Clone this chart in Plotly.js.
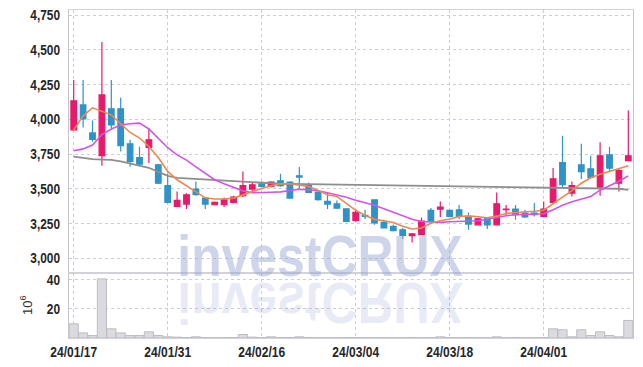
<!DOCTYPE html>
<html><head><meta charset="utf-8">
<script src="https://cdn.plot.ly/plotly-3.0.1.min.js"></script>
<style>html,body{margin:0;padding:0;background:#fff;} #chart{width:643px;height:367px;}</style>
</head><body><div id="chart"></div>
<script>
const dates = ['24/01/17','24/01/18','24/01/19','24/01/22','24/01/23','24/01/24','24/01/25','24/01/26','24/01/29','24/01/30',
 '24/01/31','24/02/01','24/02/02','24/02/05','24/02/06','24/02/07','24/02/08','24/02/13','24/02/14','24/02/15',
 '24/02/16','24/02/19','24/02/20','24/02/21','24/02/22','24/02/23','24/02/26','24/02/27','24/02/28','24/02/29',
 '24/03/04','24/03/05','24/03/06','24/03/07','24/03/08','24/03/11','24/03/12','24/03/13','24/03/14','24/03/15',
 '24/03/18','24/03/19','24/03/20','24/03/21','24/03/22','24/03/25','24/03/26','24/03/27','24/03/28','24/03/29',
 '24/04/01','24/04/02','24/04/03','24/04/04','24/04/05','24/04/08','24/04/09','24/04/11','24/04/12','24/04/15'];
const openP  = [3924,4103,3902,3739,4075,4075,3823,3725,3797,3672, 3522,3373,3390,3498,3433,3385,3385,3402,3450,3498,
 3536,3517,3557,3548,3593,3529,3476,3409,3392,3356, 3272,3308,3421,3258,3229,3205,3162,3170,3344,3354,
 3344,3349,3297,3241,3289,3241,3349,3354,3325,3325, 3301,3402,3689,3469,3672,3644,3512,3744,3541,3703];
const highP  = [4283,4283,3992,4556,4283,4154,3852,3802,3936,3680, 3608,3481,3468,3552,3440,3409,3437,3450,3624,3545,
 3552,3555,3608,3555,3656,3545,3480,3469,3416,3360, 3349,3349,3425,3277,3241,3218,3182,3294,3361,3409,
 3350,3383,3330,3290,3295,3473,3383,3383,3349,3397, 3409,3649,3881,3552,3823,3737,3835,3800,3649,4063];
const lowP   = [3917,3940,3838,3665,3935,3768,3658,3670,3685,3535, 3395,3370,3354,3450,3354,3380,3369,3400,3440,3469,
 3510,3510,3515,3430,3498,3470,3414,3354,3355,3260, 3265,3282,3241,3215,3193,3139,3114,3165,3258,3297,
 3295,3282,3205,3235,3210,3238,3313,3277,3290,3301, 3295,3395,3505,3445,3570,3575,3450,3624,3481,3700];
const closeP = [4133,4003,3856,4175,3960,3811,3696,3677,3852,3540, 3402,3416,3457,3457,3390,3402,3421,3440,3522,3529,
 3517,3548,3522,3433,3584,3473,3421,3390,3361,3265, 3330,3301,3254,3218,3198,3165,3175,3268,3265,3368,
 3301,3301,3246,3284,3241,3392,3354,3313,3297,3313, 3354,3572,3529,3522,3624,3581,3737,3649,3631,3737];
const ma5  = [3924,4025,4082,4058,4032,3968,3905,3865,3804,3725, 3625,3565,3522,3478,3435,3426,3426,3433,3457,3481,
 3502,3521,3536,3536,3529,3517,3488,3457,3445,3397, 3345,3308,3280,3270,3258,3231,3211,3218,3252,3270,
 3282,3301,3305,3299,3292,3303,3322,3329,3331,3338, 3346,3391,3439,3486,3540,3579,3605,3626,3644,3665];
const ma20 = [3773,3787,3815,3890,3930,3958,3968,3972,3930,3866, 3795,3744,3706,3658,3611,3565,3536,3511,3485,3471,
 3471,3475,3478,3486,3496,3493,3486,3471,3457,3439, 3417,3399,3381,3356,3331,3306,3281,3265,3260,3258,
 3263,3266,3270,3270,3281,3295,3306,3313,3317,3318, 3320,3349,3381,3407,3428,3445,3490,3522,3554,3593];
const ma60 = [3732,3723,3713,3710,3708,3697,3683,3669,3651,3622, 3593,3579,3575,3572,3567,3563,3557,3552,3547,3543,
 3540,3537,3536,3535,3534,3533,3532,3531,3530,3529, 3528,3527,3526,3525,3524,3523,3522,3521,3520,3519,
 3518,3516,3515,3514,3513,3513,3512,3512,3511,3511, 3510,3509,3508,3508,3508,3507,3506,3505,3500,3492];
const volume = [9.7,3.5,1.7,40.4,6.3,3.5,1.7,1.7,4.2,1.7, 0.8,0.6,0.3,0.8,0.3,0.2,0.3,0.3,2.4,0.6,
 0.3,0.8,0.3,0.3,0.8,0.3,0.2,0.2,0.2,0.3, 0.3,0.2,0.3,0.2,0.2,0.2,0.3,0.2,0.3,0.8,
 0.3,0.2,0.3,0.2,0.2,0.8,0.2,0.3,0.2,0.2, 0.3,6.3,5.6,0.8,5.6,1.7,4.2,1.7,0.8,12];
const tickDates = ['24/01/17','24/01/31','24/02/16','24/03/04','24/03/18','24/04/01'];
const priceTicks = [3000,3250,3500,3750,4000,4250,4500,4750];
const volTicks = [20,40];
const watermark = 'investCRUX';

const UP = '#e8196b', DOWN = '#2e93c6';
const GRID = '#cacde0';
const traces = [
  {type:'bar', x:dates, y:volume, xaxis:'x', yaxis:'y2', marker:{color:'#dadadf', line:{color:'#bcbcc4', width:1}}, hoverinfo:'skip'},
  {type:'scatter', mode:'lines', x:dates, y:ma60, line:{color:'#8e8e8e', width:1.8}, hoverinfo:'skip'},
  {type:'scatter', mode:'lines', x:dates, y:ma20, line:{color:'#cf56e8', width:1.6}, hoverinfo:'skip'},
  {type:'scatter', mode:'lines', x:dates, y:ma5, line:{color:'#ee8750', width:1.6}, hoverinfo:'skip'},
  {type:'candlestick', x:dates, open:openP, high:highP, low:lowP, close:closeP, whiskerwidth:0,
   increasing:{line:{color:UP, width:1.2}, fillcolor:UP}, decreasing:{line:{color:DOWN, width:1.2}, fillcolor:DOWN}, hoverinfo:'skip'}
];
const tickFont = {family:'"Liberation Sans", Arial, sans-serif', size:14.5, color:'#262626', weight:'bold'};
const layout = {
  width:643, height:367, margin:{l:69, r:10, t:10, b:28.5}, paper_bgcolor:'#fff', plot_bgcolor:'#fff',
  showlegend:false, font:tickFont, boxgap:0.15, boxgroupgap:0.3, bargap:0.03,
  xaxis:{type:'category', range:[-0.5,59.5], tickmode:'array', tickvals:tickDates, ticktext:tickDates,
    showgrid:true, gridcolor:GRID, griddash:'dot', gridwidth:1, showline:true, linecolor:'#d2d2da', mirror:'all',
    ticks:'', rangeslider:{visible:false}, anchor:'y2', zeroline:false, tickfont:Object.assign({}, tickFont, {size:15}), ticklabelstandoff:0},
  yaxis:{domain:[0.1994,1], range:[2897,4786], tickmode:'array', tickvals:priceTicks, tickformat:',d',
    showgrid:true, gridcolor:GRID, griddash:'dot', showline:true, linecolor:'#c4c4cc', mirror:true, ticks:'',
    zeroline:false, anchor:'x', tickfont:tickFont, ticklabelstandoff:5},
  yaxis2:{domain:[0,0.1994], range:[0,44.7], tickmode:'array', tickvals:volTicks,
    showgrid:true, gridcolor:GRID, griddash:'dot', showline:true, linecolor:'#c4c4cc', mirror:true, ticks:'',
    zeroline:false, anchor:'x', tickfont:tickFont, ticklabelstandoff:5,
    title:{text:'10<sup>6</sup>', font:{family:'"Liberation Sans", sans-serif', size:13, color:'#333', weight:'normal'}, standoff:8}},
  annotations:[
    {text:watermark, xref:'paper', yref:'paper', x:0.445, y:0.251, xanchor:'center', yanchor:'middle', showarrow:false,
     font:{family:'"Liberation Sans", Arial, sans-serif', size:58, color:'rgba(150,163,210,0.47)', weight:'bold'}},
    {text:watermark, xref:'paper', yref:'paper', x:0.445, y:0.104, xanchor:'center', yanchor:'middle', showarrow:false,
     font:{family:'"Liberation Sans", Arial, sans-serif', size:58, color:'rgba(150,163,210,0.22)', weight:'bold'}}
  ]
};
function squeezeCss(el, sx, sy){
  el.style.transformBox = 'fill-box';
  el.style.transformOrigin = 'center';
  el.style.transform = 'scale(' + sx + ',' + sy + ')';
}
function squeezeAttr(t, sx){
  const x = parseFloat(t.getAttribute('x')) || 0, y = parseFloat(t.getAttribute('y')) || 0;
  const tr = t.getAttribute('transform') || '';
  t.setAttribute('transform', tr + ' translate(' + x + ',' + y + ') scale(' + sx + ',1) translate(' + (-x) + ',' + (-y) + ')');
}
function finish(){
  const g = document.querySelectorAll('#chart .annotation');
  if (g.length > 1) {
    const t0 = g[0].querySelector('text'), t1 = g[1].querySelector('text');
    if (t0) squeezeCss(t0, 0.86, 1);
    if (t1) squeezeCss(t1, 0.86, -1);
  }
  document.querySelectorAll('#chart g.xtick text').forEach(t => squeezeAttr(t, 0.8));
  document.querySelectorAll('#chart g.ytick text, #chart g.y2tick text').forEach(t => squeezeAttr(t, 0.82));
}
Plotly.newPlot('chart', traces, layout, {staticPlot:true, displayModeBar:false}).then(finish);
</script>
</body></html>
